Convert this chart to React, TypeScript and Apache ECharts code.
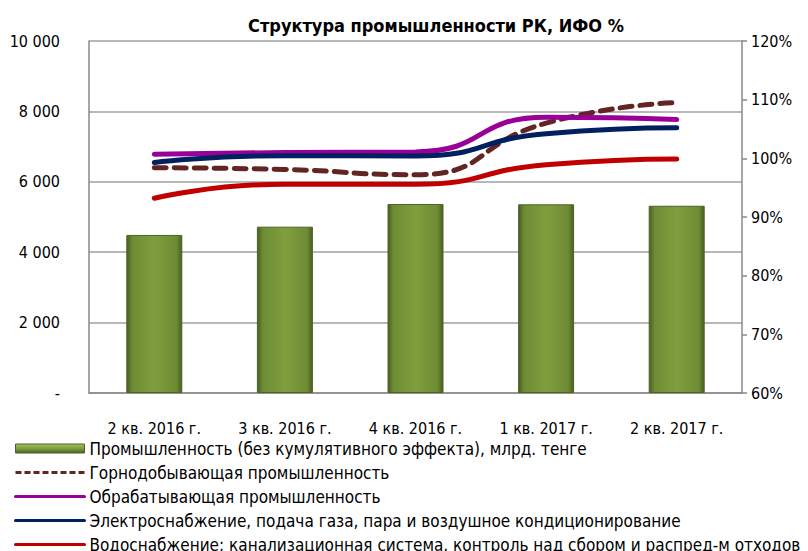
import React, { useEffect, useRef } from "react";
import * as echarts from "echarts";

const categories = ["2 кв. 2016 г.", "3 кв. 2016 г.", "4 кв. 2016 г.", "1 кв. 2017 г.", "2 кв. 2017 г."];
const industryVolume = [4490, 4725, 5370, 5360, 5320];
const mining = [98.4, 98.1, 97.2, 106.0, 109.5];
const manufacturing = [100.7, 101.0, 101.1, 107.0, 106.6];
const electricity = [99.3, 100.45, 100.4, 104.2, 105.2];
const water = [93.2, 95.6, 95.6, 98.9, 99.9];

const seriesNames = [
  "Промышленность (без кумулятивного эффекта), млрд. тенге",
  "Горнодобывающая промышленность",
  "Обрабатывающая промышленность",
  "Электроснабжение, подача газа, пара и воздушное кондиционирование",
  "Водоснабжение; канализационная система, контроль над сбором и распред-м отходов",
];

const FONT = "'Liberation Sans Narrow', 'Arial Narrow', 'DejaVu Sans Condensed', sans-serif";

const fmtThousands = (v: number) => (v === 0 ? "-" : String(v).replace(/\B(?=(\d{3})+(?!\d))/g, " "));

export default function App() {
  const ref = useRef<HTMLDivElement>(null);
  useEffect(() => {
    if (!ref.current) return;
    const chart = echarts.init(ref.current, null, { renderer: "svg" });
    const barGradient = new echarts.graphic.LinearGradient(0, 0, 1, 0, [
      { offset: 0, color: "#4a5e22" },
      { offset: 0.1, color: "#6e8c34" },
      { offset: 0.5, color: "#7f9f3e" },
      { offset: 0.9, color: "#6e8c34" },
      { offset: 1, color: "#4a5e22" },
    ]);
    const legendBarGradient = new echarts.graphic.LinearGradient(0, 0, 0, 1, [
      { offset: 0, color: "#a6c45e" },
      { offset: 0.5, color: "#7d9e3c" },
      { offset: 1, color: "#4f6228" },
    ]);
    const lineSeries = (name: string, data: number[], color: string, dashed = false) => ({
      name,
      type: "line",
      yAxisIndex: 1,
      data,
      smooth: 0.55,
      symbol: "none",
      showSymbol: false,
      z: 3,
      lineStyle: { color, width: 5, type: dashed ? [12, 8] : "solid", cap: "round" },
      itemStyle: { color },
    });
    const hiddenSymbol = { opacity: 0 };
    chart.setOption({
      animation: false,
      title: {
        text: "Структура промышленности РК, ИФО %",
        left: 431,
        textAlign: "center",
        top: 11,
        textStyle: { fontFamily: FONT, fontSize: 18, fontWeight: "bold", color: "#000" },
      },
      grid: { left: 89, right: 66, top: 41, bottom: 158, containLabel: false },
      legend: {
        orient: "vertical",
        left: 14,
        top: 440,
        height: 140,
        padding: 0,
        itemWidth: 69,
        itemHeight: 9,
        itemGap: 7,
        lineStyle: { width: 3 },
        textStyle: { fontFamily: FONT, fontSize: 17, color: "#000", lineHeight: 17 },
        data: [
          { name: seriesNames[0], icon: "rect", itemStyle: { color: legendBarGradient, borderColor: "#4f6228", borderWidth: 1 } },
          { name: seriesNames[1], itemStyle: hiddenSymbol, lineStyle: { type: [6, 3], width: 3, cap: "butt" } },
          { name: seriesNames[2], itemStyle: hiddenSymbol },
          { name: seriesNames[3], itemStyle: hiddenSymbol },
          { name: seriesNames[4], itemStyle: hiddenSymbol },
        ],
      },
      xAxis: {
        type: "category",
        data: categories,
        axisLine: { lineStyle: { color: "#888", width: 1.5 } },
        axisTick: { show: false },
        axisLabel: { fontFamily: FONT, fontSize: 16, color: "#000", margin: 27 },
      },
      yAxis: [
        {
          type: "value",
          min: 0,
          max: 10000,
          interval: 2000,
          axisLine: { show: true, lineStyle: { color: "#888", width: 1.5 } },
          axisTick: { show: false },
          splitLine: { lineStyle: { color: "#a0a0a0", width: 1.5 } },
          axisLabel: { fontFamily: FONT, fontSize: 16, color: "#000", margin: 29, formatter: fmtThousands },
        },
        {
          type: "value",
          min: 60,
          max: 120,
          interval: 10,
          position: "right",
          axisLine: { show: true, lineStyle: { color: "#888", width: 1.5 } },
          axisTick: { show: true, inside: false, length: 5, lineStyle: { color: "#888", width: 1.5 } },
          splitLine: { show: false },
          axisLabel: { fontFamily: FONT, fontSize: 16, color: "#000", margin: 9, formatter: "{value}%" },
        },
      ],
      series: [
        {
          name: seriesNames[0],
          type: "bar",
          data: industryVolume,
          barWidth: 56,
          z: 2,
          itemStyle: { color: barGradient, borderColor: "#4f6228", borderWidth: 1 },
        },
        lineSeries(seriesNames[1], mining, "#632523", true),
        lineSeries(seriesNames[2], manufacturing, "#990099"),
        lineSeries(seriesNames[3], electricity, "#002060"),
        lineSeries(seriesNames[4], water, "#c00000"),
      ],
    });
    return () => chart.dispose();
  }, []);
  return (
    <div
      ref={ref}
      style={{ position: "fixed", left: 0, top: 0, width: 808, height: 551, background: "#fff" }}
    />
  );
}
